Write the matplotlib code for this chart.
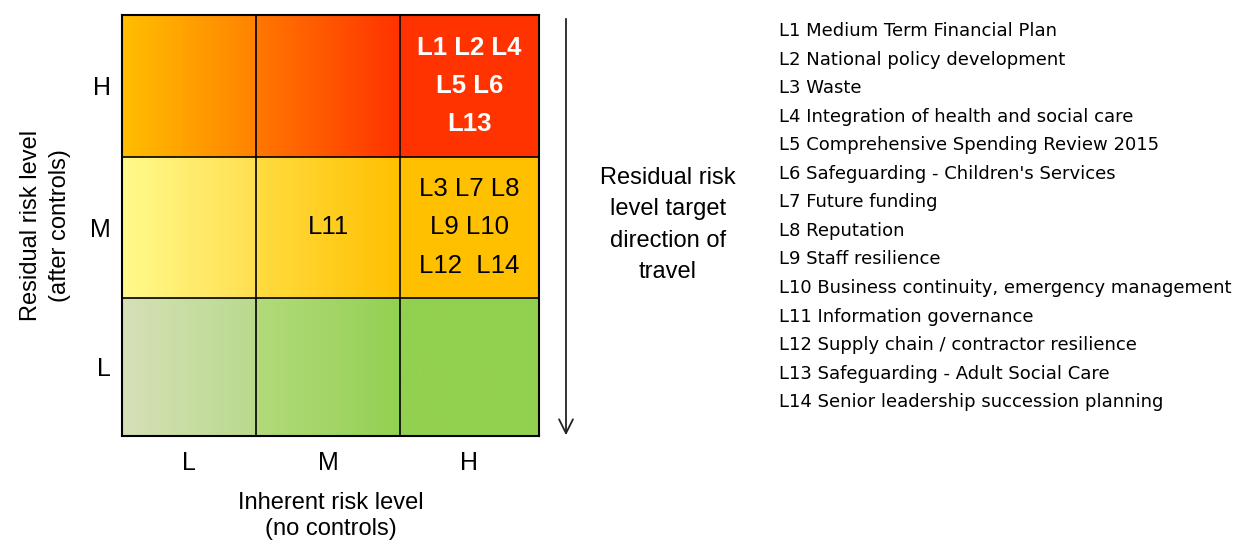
import numpy as np
import matplotlib
matplotlib.use('Agg')
import matplotlib.pyplot as plt
from matplotlib.colors import to_rgb

plt.rcParams['font.family'] = ['Liberation Sans', 'DejaVu Sans']

# risk matrix: columns = inherent level, rows = residual level
levels = ['L', 'M', 'H']
col_edges = [0, 0.965, 2.0, 3.0]   # first column drawn a bit narrower
row_edges = [0, 0.985, 1.99, 3.0]
# (left colour, right colour) of each cell, rows listed L, M, H
cell_colours = [
    [('#d6e0b8', '#b9da8c'), ('#b3da7c', '#93d152'), ('#92d050', '#92d050')],
    [('#fffa8c', '#ffdf50'), ('#ffdc40', '#ffc000'), ('#ffc000', '#ffc000')],
    [('#ffbe00', '#ff8200'), ('#ff7800', '#ff3300'), ('#ff3300', '#ff3300')],
]
# risks placed in cells: (row, col, text, bold white?)
cell_risks = [
    (2, 2, 'L1 L2 L4\nL5 L6\nL13', True),
    (1, 2, 'L3 L7 L8\nL9 L10\nL12  L14', False),
    (1, 1, 'L11', False),
]
risk_names = [
    'L1 Medium Term Financial Plan',
    'L2 National policy development',
    'L3 Waste',
    'L4 Integration of health and social care',
    'L5 Comprehensive Spending Review 2015',
    "L6 Safeguarding - Children's Services",
    'L7 Future funding',
    'L8 Reputation',
    'L9 Staff resilience',
    'L10 Business continuity, emergency management',
    'L11 Information governance',
    'L12 Supply chain / contractor resilience',
    'L13 Safeguarding - Adult Social Care',
    'L14 Senior leadership succession planning',
]

W, H = 1245, 541
fig = plt.figure(figsize=(W / 100, H / 100), dpi=100)
ax = fig.add_axes([122 / W, 1 - 436 / H, 417 / W, 421 / H])

for r, row in enumerate(cell_colours):
    for c, (c0, c1) in enumerate(row):
        t = np.linspace(0, 1, 64)[:, None]
        grad = (1 - t) * np.array(to_rgb(c0)) + t * np.array(to_rgb(c1))
        ax.imshow(grad[None, :, :],
                  extent=(col_edges[c], col_edges[c + 1], row_edges[r], row_edges[r + 1]),
                  aspect='auto', interpolation='bilinear', zorder=1)

for k in range(1, 3):
    ax.axvline(col_edges[k], color='black', lw=1.2, zorder=2)
    ax.axhline(row_edges[k], color='black', lw=1.2, zorder=2)

col_mid = [(a + b) / 2 for a, b in zip(col_edges[:-1], col_edges[1:])]
row_mid = [(a + b) / 2 for a, b in zip(row_edges[:-1], row_edges[1:])]

for r, c, txt, hot in cell_risks:
    ax.text(col_mid[c], row_mid[r], txt, ha='center', va='center',
            fontsize=18.5, linespacing=1.75,
            color='white' if hot else 'black',
            fontweight='bold' if hot else 'normal', zorder=3)

ax.set_xlim(0, 3)
ax.set_ylim(0, 3)
ax.set_xticks(col_mid, levels)
ax.set_yticks(row_mid, levels)
ax.tick_params(length=0, labelsize=18)
ax.tick_params(axis='x', pad=11)
ax.tick_params(axis='y', pad=8)
for s in ax.spines.values():
    s.set_linewidth(1.5)

ax.set_xlabel('Inherent risk level\n(no controls)', fontsize=17, labelpad=12,
              linespacing=1.25)
ax.set_ylabel('Residual risk level\n(after controls)', fontsize=17, labelpad=14,
              linespacing=1.4)

# direction of travel arrow
ax.annotate('', xy=(566 / W, 1 - 438 / H), xytext=(566 / W, 1 - 16 / H),
            xycoords='figure fraction', textcoords='figure fraction',
            arrowprops=dict(arrowstyle='->,head_length=1.0,head_width=0.5',
                            color='#222222', lw=1.3))
fig.text(668 / W, 1 - 225 / H, 'Residual risk\nlevel target\ndirection of\ntravel',
         ha='center', va='center', fontsize=17, linespacing=1.55)

for i, name in enumerate(risk_names):
    fig.text(779 / W, 1 - (31 + i * 28.55) / H, name, ha='left', va='center',
             fontsize=13.0, family='DejaVu Sans')

fig.savefig('out.png', dpi=100)
